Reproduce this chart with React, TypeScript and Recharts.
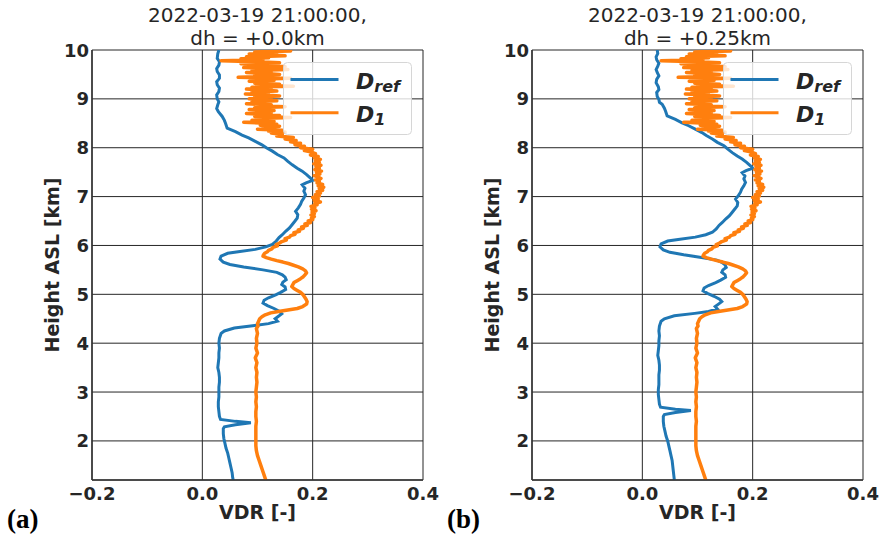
import { LineChart, Line, XAxis, YAxis, CartesianGrid, Legend } from "recharts";

const FONT = "'DejaVu Sans', sans-serif";
const INK = "#262626";
const BLUE = "#1f77b4";
const ORANGE = "#ff7f0e";

const X_TICKS = [-0.2, 0, 0.2, 0.4];
const Y_TICKS = [2, 3, 4, 5, 6, 7, 8, 9, 10];
const TIME_LABEL = "2022-03-19 21:00:00,";
const DH_LABELS = ["dh = +0.0km", "dh = +0.25km"];
const PANEL_TAGS = ["(a)", "(b)"];

// [height km, VDR]
const DREF_A: [number, number][] = [
  [10.0, 0.030], [9.92, 0.028], [9.83, 0.027], [9.76, 0.031], [9.69, 0.030], [9.62, 0.026],
  [9.56, 0.027], [9.49, 0.031], [9.42, 0.031], [9.35, 0.026], [9.29, 0.027], [9.22, 0.031],
  [9.15, 0.030], [9.08, 0.026], [9.0, 0.027], [8.94, 0.030], [8.88, 0.028], [8.80, 0.026],
  [8.74, 0.029], [8.64, 0.036], [8.56, 0.040], [8.50, 0.042], [8.40, 0.045], [8.33, 0.060],
  [8.26, 0.072], [8.20, 0.084], [8.13, 0.096], [8.06, 0.108], [8.00, 0.116], [7.93, 0.127],
  [7.86, 0.136], [7.79, 0.148], [7.72, 0.155], [7.65, 0.163], [7.58, 0.172], [7.52, 0.181],
  [7.45, 0.189], [7.38, 0.196], [7.33, 0.200], [7.28, 0.188], [7.24, 0.181], [7.17, 0.186],
  [7.11, 0.184], [7.04, 0.187], [6.97, 0.184], [6.90, 0.180], [6.84, 0.178], [6.77, 0.174],
  [6.70, 0.169], [6.63, 0.173], [6.56, 0.172], [6.50, 0.168], [6.43, 0.163], [6.36, 0.158],
  [6.29, 0.151], [6.22, 0.145], [6.16, 0.139], [6.09, 0.134], [6.02, 0.127], [5.97, 0.115],
  [5.92, 0.096], [5.87, 0.065], [5.84, 0.046], [5.78, 0.034], [5.72, 0.032], [5.66, 0.038],
  [5.61, 0.050], [5.56, 0.075], [5.50, 0.110], [5.45, 0.135], [5.40, 0.145], [5.35, 0.150],
  [5.30, 0.152], [5.25, 0.146], [5.20, 0.144], [5.15, 0.150], [5.10, 0.151], [5.04, 0.142],
  [4.99, 0.133], [4.93, 0.120], [4.88, 0.112], [4.82, 0.110], [4.77, 0.118], [4.71, 0.130],
  [4.65, 0.140], [4.60, 0.144], [4.55, 0.138], [4.50, 0.132], [4.45, 0.136], [4.40, 0.120],
  [4.36, 0.095], [4.31, 0.058], [4.25, 0.040], [4.20, 0.034], [4.10, 0.031], [4.00, 0.030],
  [3.90, 0.031], [3.80, 0.030], [3.70, 0.030], [3.60, 0.029], [3.50, 0.028], [3.40, 0.030],
  [3.30, 0.031], [3.20, 0.031], [3.10, 0.030], [3.00, 0.030], [2.90, 0.030], [2.80, 0.029],
  [2.70, 0.029], [2.60, 0.030], [2.50, 0.031], [2.44, 0.033], [2.40, 0.060], [2.37, 0.088],
  [2.33, 0.060], [2.29, 0.040], [2.25, 0.038], [2.15, 0.038], [2.05, 0.039], [1.95, 0.041],
  [1.85, 0.043], [1.75, 0.046], [1.65, 0.048], [1.55, 0.050], [1.45, 0.052], [1.35, 0.054],
  [1.25, 0.055], [1.20, 0.056],
];

const DREF_B: [number, number][] = [
  [10.0, 0.027], [9.93, 0.028], [9.86, 0.025], [9.80, 0.026], [9.73, 0.030], [9.67, 0.028],
  [9.60, 0.025], [9.54, 0.027], [9.47, 0.030], [9.40, 0.026], [9.33, 0.025], [9.25, 0.029],
  [9.19, 0.030], [9.13, 0.026], [9.05, 0.027], [8.99, 0.030], [8.93, 0.031], [8.89, 0.036],
  [8.81, 0.040], [8.75, 0.042], [8.65, 0.045], [8.58, 0.060], [8.51, 0.072], [8.45, 0.084],
  [8.38, 0.096], [8.31, 0.108], [8.25, 0.116], [8.18, 0.127], [8.11, 0.136], [8.04, 0.148],
  [7.97, 0.155], [7.90, 0.163], [7.83, 0.172], [7.77, 0.181], [7.70, 0.189], [7.63, 0.196],
  [7.58, 0.200], [7.53, 0.188], [7.49, 0.181], [7.42, 0.186], [7.36, 0.184], [7.29, 0.187],
  [7.22, 0.184], [7.15, 0.180], [7.09, 0.178], [7.02, 0.174], [6.95, 0.169], [6.88, 0.173],
  [6.81, 0.172], [6.75, 0.168], [6.68, 0.163], [6.61, 0.158], [6.54, 0.151], [6.47, 0.145],
  [6.41, 0.139], [6.34, 0.134], [6.27, 0.127], [6.22, 0.115], [6.17, 0.096], [6.12, 0.065],
  [6.09, 0.046], [6.03, 0.034], [5.97, 0.032], [5.91, 0.038], [5.86, 0.050], [5.81, 0.075],
  [5.75, 0.110], [5.70, 0.135], [5.65, 0.145], [5.60, 0.150], [5.55, 0.152], [5.50, 0.146],
  [5.45, 0.144], [5.40, 0.150], [5.35, 0.151], [5.29, 0.142], [5.24, 0.133], [5.18, 0.120],
  [5.13, 0.112], [5.07, 0.110], [5.02, 0.118], [4.96, 0.130], [4.90, 0.140], [4.85, 0.144],
  [4.80, 0.138], [4.75, 0.132], [4.70, 0.136], [4.65, 0.120], [4.61, 0.095], [4.56, 0.058],
  [4.50, 0.040], [4.45, 0.034], [4.35, 0.031], [4.25, 0.030], [4.15, 0.031], [4.05, 0.030],
  [3.95, 0.030], [3.85, 0.029], [3.75, 0.028], [3.65, 0.030], [3.55, 0.031], [3.45, 0.031],
  [3.35, 0.030], [3.25, 0.030], [3.15, 0.030], [3.05, 0.029], [2.95, 0.029], [2.85, 0.030],
  [2.75, 0.031], [2.69, 0.033], [2.65, 0.060], [2.62, 0.088], [2.58, 0.060], [2.54, 0.040],
  [2.50, 0.038], [2.40, 0.038], [2.30, 0.039], [2.20, 0.041], [2.10, 0.043], [2.00, 0.046],
  [1.90, 0.048], [1.80, 0.050], [1.70, 0.052], [1.60, 0.054], [1.50, 0.055], [1.40, 0.056],
  [1.30, 0.057], [1.20, 0.058],
];

// D1 is the same profile in both panels
const D1: [number, number][] = [
  [10.0, 0.110], [9.98, 0.160], [9.96, 0.095], [9.94, 0.135], [9.92, 0.085], [9.90, 0.125],
  [9.88, 0.150], [9.86, 0.080], [9.84, 0.120], [9.82, 0.070], [9.80, 0.110], [9.78, 0.034],
  [9.76, 0.100], [9.74, 0.140], [9.72, 0.070], [9.70, 0.125], [9.68, 0.090], [9.66, 0.150],
  [9.64, 0.075], [9.62, 0.130], [9.60, 0.155], [9.58, 0.090], [9.56, 0.125], [9.54, 0.080],
  [9.52, 0.115], [9.50, 0.140], [9.48, 0.095], [9.46, 0.120], [9.44, 0.065], [9.42, 0.160],
  [9.40, 0.100], [9.38, 0.130], [9.36, 0.085], [9.34, 0.120], [9.32, 0.095], [9.30, 0.140],
  [9.28, 0.100], [9.26, 0.165], [9.24, 0.090], [9.22, 0.125], [9.20, 0.080], [9.18, 0.110],
  [9.16, 0.135], [9.14, 0.090], [9.12, 0.120], [9.10, 0.078], [9.08, 0.115], [9.06, 0.140],
  [9.04, 0.095], [9.02, 0.125], [9.00, 0.085], [8.98, 0.110], [8.96, 0.135], [8.94, 0.090],
  [8.92, 0.120], [8.90, 0.080], [8.88, 0.125], [8.86, 0.100], [8.84, 0.150], [8.82, 0.095],
  [8.80, 0.120], [8.78, 0.085], [8.76, 0.130], [8.74, 0.100], [8.72, 0.125], [8.70, 0.080],
  [8.68, 0.115], [8.66, 0.140], [8.64, 0.095], [8.62, 0.160], [8.60, 0.105], [8.58, 0.125],
  [8.56, 0.090], [8.54, 0.130], [8.52, 0.075], [8.50, 0.115], [8.48, 0.135], [8.46, 0.105],
  [8.44, 0.140], [8.42, 0.110], [8.40, 0.130], [8.38, 0.100], [8.36, 0.145], [8.34, 0.120],
  [8.32, 0.150], [8.30, 0.125], [8.27, 0.145], [8.24, 0.135], [8.21, 0.165], [8.18, 0.150],
  [8.15, 0.170], [8.12, 0.160], [8.09, 0.178], [8.06, 0.168], [8.03, 0.185], [8.00, 0.178],
  [7.97, 0.200], [7.94, 0.185], [7.91, 0.198], [7.88, 0.205], [7.85, 0.196], [7.82, 0.210],
  [7.79, 0.203], [7.76, 0.214], [7.73, 0.205], [7.70, 0.212], [7.67, 0.202], [7.64, 0.215],
  [7.61, 0.206], [7.58, 0.212], [7.55, 0.204], [7.52, 0.216], [7.49, 0.207], [7.46, 0.213],
  [7.43, 0.203], [7.40, 0.210], [7.37, 0.215], [7.34, 0.205], [7.31, 0.212], [7.28, 0.208],
  [7.25, 0.218], [7.22, 0.210], [7.19, 0.220], [7.16, 0.212], [7.13, 0.218], [7.10, 0.208],
  [7.07, 0.214], [7.04, 0.205], [7.01, 0.212], [6.98, 0.200], [6.95, 0.210], [6.92, 0.203],
  [6.89, 0.214], [6.86, 0.204], [6.83, 0.208], [6.80, 0.197], [6.77, 0.204], [6.74, 0.198],
  [6.71, 0.206], [6.68, 0.199], [6.65, 0.203], [6.62, 0.197], [6.59, 0.203], [6.56, 0.198],
  [6.53, 0.200], [6.50, 0.192], [6.47, 0.196], [6.44, 0.186], [6.41, 0.190], [6.38, 0.180],
  [6.35, 0.183], [6.32, 0.174], [6.29, 0.176], [6.26, 0.166], [6.23, 0.168], [6.20, 0.160],
  [6.17, 0.158], [6.14, 0.150], [6.11, 0.152], [6.08, 0.144], [6.05, 0.140], [6.02, 0.134],
  [5.99, 0.136], [5.96, 0.128], [5.93, 0.126], [5.90, 0.120], [5.87, 0.118], [5.84, 0.113],
  [5.81, 0.111], [5.78, 0.110], [5.75, 0.116], [5.72, 0.125], [5.69, 0.135], [5.66, 0.146],
  [5.63, 0.156], [5.60, 0.164], [5.56, 0.174], [5.52, 0.182], [5.48, 0.187], [5.44, 0.189],
  [5.40, 0.186], [5.36, 0.183], [5.32, 0.178], [5.28, 0.172], [5.24, 0.166], [5.20, 0.164],
  [5.16, 0.162], [5.12, 0.166], [5.08, 0.172], [5.04, 0.178], [5.00, 0.182], [4.95, 0.185],
  [4.90, 0.188], [4.85, 0.190], [4.80, 0.189], [4.75, 0.182], [4.71, 0.172], [4.68, 0.155],
  [4.65, 0.138], [4.62, 0.124], [4.58, 0.114], [4.54, 0.108], [4.50, 0.104], [4.45, 0.102],
  [4.40, 0.100], [4.35, 0.101], [4.30, 0.098], [4.20, 0.100], [4.10, 0.098], [4.00, 0.099],
  [3.90, 0.097], [3.80, 0.100], [3.70, 0.096], [3.60, 0.099], [3.50, 0.097], [3.40, 0.099],
  [3.30, 0.098], [3.20, 0.099], [3.10, 0.098], [3.00, 0.097], [2.90, 0.098], [2.80, 0.097],
  [2.70, 0.098], [2.60, 0.097], [2.50, 0.097], [2.40, 0.098], [2.30, 0.097], [2.20, 0.097],
  [2.10, 0.097], [2.00, 0.097], [1.90, 0.097], [1.80, 0.098], [1.70, 0.100], [1.60, 0.103],
  [1.50, 0.106], [1.40, 0.109], [1.30, 0.112], [1.20, 0.115],
];

const toRows = (arr: [number, number][]) => arr.map(([h, v]) => ({ h, v }));

const fmtX = (v: number) => (v < 0 ? "\u2212" : "") + Math.abs(v).toFixed(1);

function XTick(props: any) {
  const { x, y, payload } = props;
  return (
    <text x={x} y={y + 20} textAnchor="middle" fontFamily={FONT} fontSize={18} fontWeight="bold" fill={INK}>
      {fmtX(payload.value)}
    </text>
  );
}

function YTick(props: any) {
  const { x, y, payload } = props;
  return (
    <text x={x} y={y + 6.5} textAnchor="end" fontFamily={FONT} fontSize={18} fontWeight="bold" fill={INK}>
      {payload.value}
    </text>
  );
}

function LegendBox() {
  const label = (y: number, sub: string) => (
    <text x={73} y={y} fontFamily={FONT} fontSize={22} fontWeight="bold" fontStyle="italic" fill={INK}>
      D
      <tspan fontSize={16} dy={3}>
        {sub}
      </tspan>
    </text>
  );
  return (
    <svg width={129} height={73} style={{ display: "block" }}>
      <rect x={0.5} y={0.5} width={128} height={72} rx={4} fill="#ffffff" fillOpacity={0.8} stroke="#d6d6d6" />
      <line x1={7.5} x2={55.5} y1={17.6} y2={17.6} stroke={BLUE} strokeWidth={3} />
      <line x1={7.5} x2={55.5} y1={50.8} y2={50.8} stroke={ORANGE} strokeWidth={3} />
      {label(26.5, "ref")}
      {label(59.5, "1")}
    </svg>
  );
}

function Panel({ refData, dh, tag }: { refData: [number, number][]; dh: string; tag: string }) {
  return (
    <div style={{ position: "relative", width: 440, height: 540 }}>
      <LineChart width={440} height={540} layout="vertical" margin={{ top: 50, right: 17, bottom: 0, left: 32 }}>
        <CartesianGrid stroke={INK} strokeWidth={1} />
        <XAxis
          type="number"
          domain={[-0.2, 0.4]}
          ticks={X_TICKS}
          interval={0}
          allowDataOverflow
          height={60}
          tickSize={0}
          tickMargin={0}
          tick={<XTick />}
          axisLine={{ stroke: "#333", strokeWidth: 1.5 }}
          label={{
            content: () => (
              <text x={257.5} y={519} textAnchor="middle" fontFamily={FONT} fontSize={19} fontWeight="bold" fill={INK}>
                VDR [-]
              </text>
            ),
          }}
        />
        <YAxis
          type="number"
          dataKey="h"
          domain={[1.2, 10]}
          reversed
          ticks={Y_TICKS}
          interval={0}
          allowDataOverflow
          width={60}
          tickSize={0}
          tickMargin={3}
          tick={<YTick />}
          axisLine={{ stroke: "#333", strokeWidth: 1.5 }}
          label={{
            content: () => (
              <text
                x={59}
                y={265}
                transform="rotate(-90, 59, 265)"
                textAnchor="middle"
                fontFamily={FONT}
                fontSize={19}
                fontWeight="bold"
                fill={INK}
              >
                Height ASL [km]
              </text>
            ),
          }}
        />
        <Line
          data={toRows(refData)}
          dataKey="v"
          name="Dref"
          stroke={BLUE}
          strokeWidth={3}
          dot={false}
          type="linear"
          isAnimationActive={false}
        />
        <Line
          data={toRows(D1)}
          dataKey="v"
          name="D1"
          stroke={ORANGE}
          strokeWidth={3.5}
          strokeLinejoin="round"
          dot={false}
          type="linear"
          isAnimationActive={false}
        />
        <Legend
          layout="horizontal"
          verticalAlign="middle"
          align="center"
          content={() => <LegendBox />}
          wrapperStyle={{ left: 282.5, top: 61.5, width: 129, height: 73 }}
        />
      </LineChart>
      <svg width={440} height={540} style={{ position: "absolute", left: 0, top: 0, pointerEvents: "none" }}>
        <text x={257.5} y={21.5} textAnchor="middle" fontFamily={FONT} fontSize={20} fill={INK}>
          {TIME_LABEL}
        </text>
        <text x={257.5} y={44.5} textAnchor="middle" fontFamily={FONT} fontSize={20} fill={INK}>
          {dh}
        </text>
        <text x={7} y={528} fontFamily="'Liberation Serif', serif" fontSize={27} fontWeight="bold" fill="#000">
          {tag}
        </text>
      </svg>
    </div>
  );
}

export default function App() {
  return (
    <div style={{ position: "absolute", left: 0, top: 0, width: 880, height: 540, background: "#fff", display: "flex" }}>
      <Panel refData={DREF_A} dh={DH_LABELS[0]} tag={PANEL_TAGS[0]} />
      <Panel refData={DREF_B} dh={DH_LABELS[1]} tag={PANEL_TAGS[1]} />
    </div>
  );
}
